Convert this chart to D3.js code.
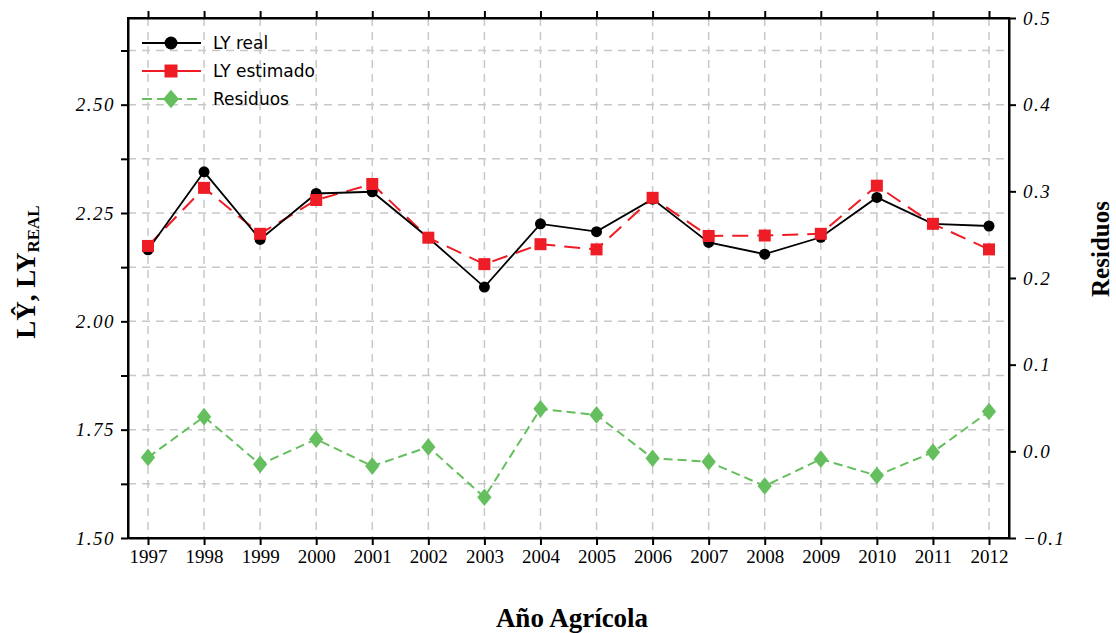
<!DOCTYPE html>
<html><head><meta charset="utf-8">
<script src="https://cdn.jsdelivr.net/npm/d3@7"></script>
<style>body{margin:0;background:#fff}svg{display:block}</style>
</head><body><svg id="c" width="1116" height="633"></svg>
<script>
const years = [1997,1998,1999,2000,2001,2002,2003,2004,2005,2006,2007,2008,2009,2010,2011,2012];
const lyReal = [2.165,2.345,2.189,2.295,2.299,2.193,2.079,2.225,2.207,2.282,2.182,2.155,2.194,2.286,2.225,2.220];
const lyEst = [2.174,2.308,2.202,2.280,2.317,2.193,2.132,2.178,2.166,2.285,2.197,2.198,2.202,2.313,2.225,2.166];
const residuos = [-0.007,0.040,-0.015,0.014,-0.017,0.005,-0.053,0.049,0.042,-0.008,-0.012,-0.040,-0.009,-0.028,-0.001,0.046];
const leftTicks = [1.50,1.75,2.00,2.25,2.50];
const leftMinor = [1.50,1.625,1.75,1.875,2.00,2.125,2.25,2.375,2.50,2.625];
const rightTicks = [-0.1,0.0,0.1,0.2,0.3,0.4,0.5];
const legendLabels = ["LY real","LY estimado","Residuos"];

const svg = d3.select("#c");
const L=128,R=1009,T=18,B=538;
const x = d3.scaleLinear().domain([1997-20/56.07,2012+20/56.07]).range([L,R]);
const yL = d3.scaleLinear().domain([1.5,2.7]).range([B,T]);
const yR = d3.scaleLinear().domain([-0.1,0.5]).range([B,T]);

// grid
const g = svg.append("g");
g.selectAll("line.v").data(years).join("line")
 .attr("x1",d=>x(d)).attr("x2",d=>x(d)).attr("y1",T).attr("y2",B)
 .attr("stroke","#c8c8c8").attr("stroke-width",1.5).attr("stroke-dasharray","8,6");
g.selectAll("line.h").data(leftMinor.filter(d=>d>1.5)).join("line")
 .attr("x1",L).attr("x2",R).attr("y1",d=>yL(d)).attr("y2",d=>yL(d))
 .attr("stroke","#c8c8c8").attr("stroke-width",1.5).attr("stroke-dasharray","8,6");

// axes
const serif = "'Liberation Serif','Times New Roman',serif";
const ax = svg.append("g").attr("transform",`translate(0,${B})`)
 .call(d3.axisBottom(x).tickValues(years).tickFormat(d3.format("d")).tickSize(7).tickSizeOuter(0).tickPadding(5));
ax.selectAll("text").attr("font-family",serif).attr("font-size",19).attr("fill","#000");
const axT = svg.append("g").attr("transform",`translate(0,${T})`)
 .call(d3.axisTop(x).tickValues(years).tickFormat("").tickSize(7).tickSizeOuter(0));
const ayL = svg.append("g").attr("transform",`translate(${L},0)`)
 .call(d3.axisLeft(yL).tickValues(leftMinor).tickFormat(d=>leftTicks.some(t=>Math.abs(t-d)<1e-9)?d3.format(".2f")(d):"").tickSize(7).tickSizeOuter(0).tickPadding(6));
ayL.selectAll("text").style("font-family","Liberation Serif").style("font-style","italic").attr("font-size",19).attr("letter-spacing","1.5px").attr("fill","#000");
const ayR = svg.append("g").attr("transform",`translate(${R},0)`)
 .call(d3.axisRight(yR).tickValues(rightTicks).tickFormat(d3.format(".1f")).tickSize(7).tickSizeOuter(0).tickPadding(7));
ayR.selectAll("text").style("font-family","Liberation Serif").style("font-style","italic").attr("font-size",19).attr("letter-spacing","1.5px").attr("fill","#000");
[ax,axT,ayL,ayR].forEach(a=>{a.selectAll("path,line").attr("stroke","#000").attr("stroke-width",2);});
svg.append("rect").attr("x",L).attr("y",T).attr("width",R-L).attr("height",B-T).attr("fill","none").attr("stroke","#000").attr("stroke-width",2);

// series
const lineL = d3.line().x((d,i)=>x(years[i])).y(d=>yL(d));
const lineR = d3.line().x((d,i)=>x(years[i])).y(d=>yR(d));
svg.append("path").attr("d",lineR(residuos)).attr("fill","none").attr("stroke","#66bf5f").attr("stroke-width",2).attr("stroke-dasharray","9,5");
svg.append("path").attr("d",lineL(lyEst)).attr("fill","none").attr("stroke","#ee1c25").attr("stroke-width",2).attr("stroke-dasharray","16,9");
svg.append("path").attr("d",lineL(lyReal)).attr("fill","none").attr("stroke","#000").attr("stroke-width",1.8);

const diamond = d3.symbol().type(d3.symbolDiamond).size(90);
svg.selectAll("path.res").data(residuos).join("path")
 .attr("transform",(d,i)=>`translate(${x(years[i])},${yR(d)}) scale(1.4,1.0)`).attr("d",diamond()).attr("fill","#66bf5f");
svg.selectAll("circle.real").data(lyReal).join("circle")
 .attr("cx",(d,i)=>x(years[i])).attr("cy",d=>yL(d)).attr("r",5.5).attr("fill","#000");
svg.selectAll("rect.est").data(lyEst).join("rect")
 .attr("x",(d,i)=>x(years[i])-6).attr("y",d=>yL(d)-6).attr("width",12).attr("height",12).attr("fill","#ee1c25");

// legend
const lg = svg.append("g");
const ly = [43,71,99];
const sans = "'DejaVu Sans',Verdana,sans-serif";
legendLabels.forEach((lab,i)=>{
  const yy = ly[i];
  const col = ["#000","#ee1c25","#66bf5f"][i];
  lg.append("line").attr("x1",142).attr("x2",201).attr("y1",yy).attr("y2",yy).attr("stroke",col).attr("stroke-width",i===0?1.8:2)
    .attr("stroke-dasharray",i===2?"10,5":null);
  if(i===0) lg.append("circle").attr("cx",171).attr("cy",yy).attr("r",6.5).attr("fill",col);
  if(i===1) lg.append("rect").attr("x",164.5).attr("y",yy-6.5).attr("width",13).attr("height",13).attr("fill",col);
  if(i===2) lg.append("path").attr("transform",`translate(171,${yy}) scale(1.55,1.05)`).attr("d",diamond()).attr("fill",col);
  lg.append("text").attr("x",213).attr("y",yy+6).attr("font-family",sans).attr("font-size",17).attr("fill","#000").text(lab);
});

// axis titles
svg.append("text").attr("x",572).attr("y",627).attr("text-anchor","middle").attr("font-family",serif).attr("font-weight","bold").attr("font-size",27).text("Año Agrícola");
const tl = svg.append("text").attr("transform","translate(35,272) rotate(-90)").attr("text-anchor","middle").attr("font-family",serif).attr("font-weight","bold").attr("font-size",27);
tl.append("tspan").text("LŶ, LY");
tl.append("tspan").attr("font-size",17).attr("dy",4).text("REAL");
svg.append("text").attr("transform","translate(1109,249) rotate(-90)").attr("text-anchor","middle").attr("font-family",serif).attr("font-weight","bold").attr("font-size",25).text("Residuos");
</script></body></html>
